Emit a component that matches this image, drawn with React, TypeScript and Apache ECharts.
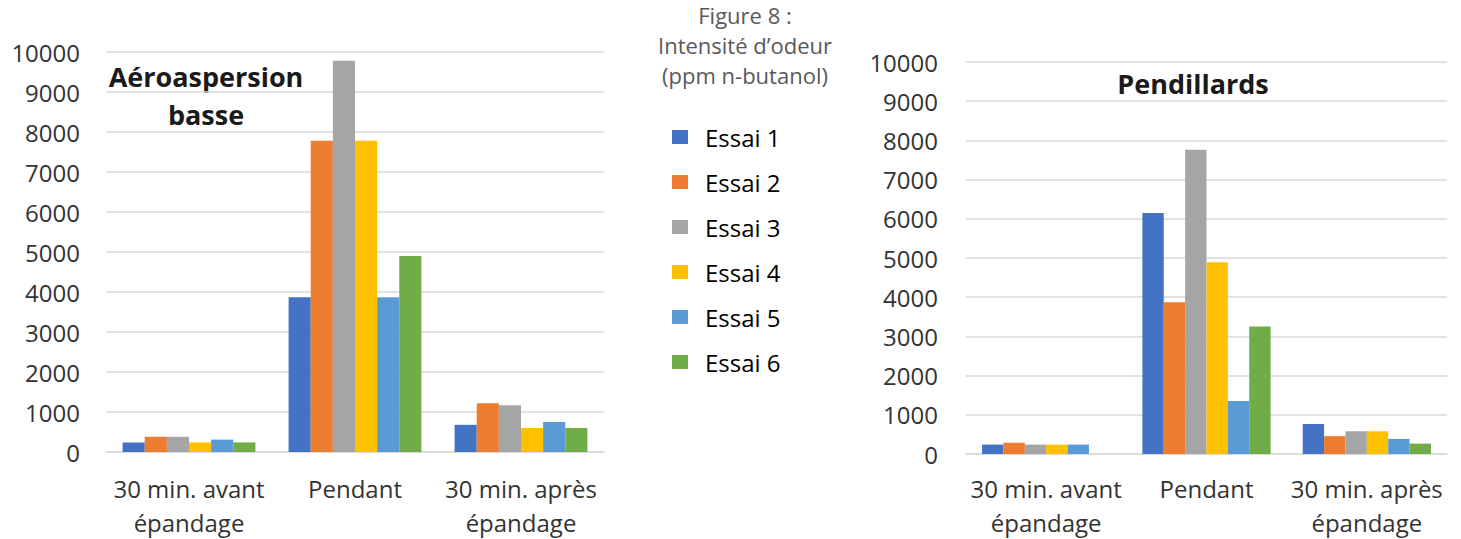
import React, { useEffect, useRef } from "react";
import * as echarts from "echarts";

const categories = ["30 min. avant\népandage", "Pendant", "30 min. après\népandage"];
const seriesNames = ["Essai 1", "Essai 2", "Essai 3", "Essai 4", "Essai 5", "Essai 6"];
const colors = ["#4472C4", "#ED7D31", "#A5A5A5", "#FFC000", "#5B9BD5", "#70AD47"];

// Aéroaspersion basse: values per essai for [avant, pendant, après]
const aeroEssai1 = [240, 3870, 680];
const aeroEssai2 = [380, 7780, 1220];
const aeroEssai3 = [380, 9780, 1170];
const aeroEssai4 = [240, 7780, 600];
const aeroEssai5 = [310, 3870, 750];
const aeroEssai6 = [240, 4900, 600];

// Pendillards
const pendEssai1 = [240, 6150, 765];
const pendEssai2 = [290, 3870, 455];
const pendEssai3 = [240, 7760, 580];
const pendEssai4 = [240, 4890, 580];
const pendEssai5 = [240, 1355, 385];
const pendEssai6 = [null, 3250, 265];

const yTicks = { min: 0, max: 10000, interval: 1000 };

const aeroData = [aeroEssai1, aeroEssai2, aeroEssai3, aeroEssai4, aeroEssai5, aeroEssai6];
const pendData = [pendEssai1, pendEssai2, pendEssai3, pendEssai4, pendEssai5, pendEssai6];

const FONT = "'Open Sans', 'Liberation Sans', sans-serif";

export default function App() {
  const ref = useRef<HTMLDivElement>(null);
  useEffect(() => {
    document.body.style.margin = "0";
    if (!ref.current) return;
    const chart = echarts.init(ref.current, null, { renderer: "svg" });
    const gridLineColor = "#d9d9d9";
    const mkX = (gridIndex: number, margin: number) => ({
      type: "category",
      gridIndex,
      data: categories,
      axisTick: { show: false },
      axisLine: { show: true, lineStyle: { color: gridLineColor, width: 1.5 } },
      axisLabel: {
        interval: 0,
        margin,
        fontSize: 24,
        lineHeight: 34,
        color: "#333333",
        fontFamily: FONT,
      },
    });
    const mkY = (gridIndex: number, margin: number) => ({
      type: "value",
      gridIndex,
      min: yTicks.min,
      max: yTicks.max,
      interval: yTicks.interval,
      axisLine: { show: false },
      axisTick: { show: false },
      splitLine: { lineStyle: { color: gridLineColor, width: 1.5 } },
      axisLabel: {
        margin,
        fontSize: 24,
        color: "#333333",
        fontFamily: FONT,
        formatter: (v: number) => String(v),
      },
    });
    const series: any[] = [];
    aeroData.forEach((d, i) => {
      series.push({
        type: "bar",
        name: seriesNames[i],
        xAxisIndex: 0,
        yAxisIndex: 0,
        data: d,
        itemStyle: { color: colors[i] },
        barGap: "0%",
        barCategoryGap: "20%",
      });
    });
    pendData.forEach((d, i) => {
      series.push({
        type: "bar",
        name: seriesNames[i],
        xAxisIndex: 1,
        yAxisIndex: 1,
        data: d,
        itemStyle: { color: colors[i] },
        barGap: "0%",
        barCategoryGap: "20%",
      });
    });
    chart.setOption({
      animation: false,
      backgroundColor: "#ffffff",
      grid: [
        { left: 106, right: 1461 - 604, top: 52, bottom: 539 - 452 },
        { left: 966, right: 1461 - 1447, top: 62, bottom: 539 - 454 },
      ],
      xAxis: [mkX(0, 19), mkX(1, 17)],
      yAxis: [mkY(0, 26), mkY(1, 28)],
      legend: {
        orient: "vertical",
        left: 672,
        top: 124,
        padding: 0,
        itemWidth: 16,
        itemHeight: 14,
        itemGap: 19,
        icon: "rect",
        data: seriesNames,
        textStyle: {
          fontSize: 24,
          lineHeight: 26,
          color: "#000000",
          fontFamily: FONT,
          padding: [0, 0, 0, 12],
        },
      },
      graphic: [
        {
          type: "text",
          x: 745,
          y: 0,
          style: {
            text: "Figure 8 :\nIntensité d’odeur\n(ppm n-butanol)",
            align: "center",
            verticalAlign: "top",
            fontSize: 22,
            lineHeight: 30,
            fontFamily: FONT,
            fill: "#595959",
          },
        },
        {
          type: "text",
          x: 206,
          y: 57,
          style: {
            text: "Aéroaspersion\nbasse",
            align: "center",
            verticalAlign: "top",
            fontSize: 27,
            fontWeight: "bold",
            lineHeight: 38,
            fontFamily: FONT,
            fill: "#1a1a1a",
          },
        },
        {
          type: "text",
          x: 1193,
          y: 64,
          style: {
            text: "Pendillards",
            align: "center",
            verticalAlign: "top",
            fontSize: 27,
            fontWeight: "bold",
            lineHeight: 38,
            fontFamily: FONT,
            fill: "#1a1a1a",
          },
        },
      ],
      series,
    });
    return () => chart.dispose();
  }, []);
  return <div ref={ref} style={{ width: 1461, height: 539 }} />;
}
